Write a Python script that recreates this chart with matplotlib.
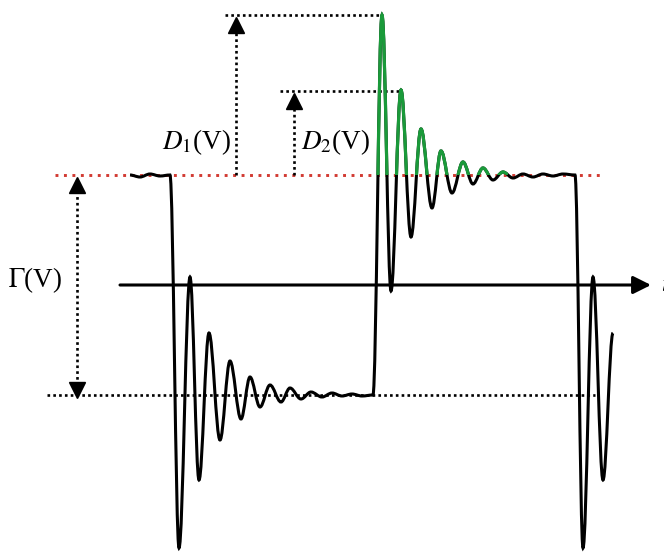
import matplotlib.pyplot as plt
from matplotlib.path import Path
from matplotlib.patches import PathPatch, Rectangle

plt.rcParams['font.family'] = ['Liberation Serif', 'DejaVu Serif']
plt.rcParams['mathtext.fontset'] = 'stix'

# signal levels (arbitrary units, 0 = time axis)
v_high = 110
v_low = -110
d1_peak = 270
d2_peak = 194

# turning points of the ringing waveform
t_pts = [130, 140, 150, 160, 170, 179, 190, 199, 209, 220, 230, 241, 250, 260,
         270, 281, 290, 301, 311, 322, 332, 342, 352, 362, 373,
         382, 391, 401, 411, 421, 432, 441, 452, 463, 473, 483, 493, 503, 513,
         523, 533, 543, 553, 563, 575, 583, 593, 603, 613]
v_pts = [110, 108, 111, 109, 110, -263, 8, -195, -48, -155, -76, -134, -92, -122,
         -100, -117, -103, -114, -107, -112, -108, -111, -109, -111, -110,
         270, -6, 195, 48, 156, 77, 134, 92, 123, 101, 117, 105, 113, 107,
         111, 108, 111, 109, 111, 110, -263, 8, -195, -48]


def wave_path(ts, vs, k=0.36):
    # smooth curve through turning points, flat tangent at each one
    verts = [(ts[0], vs[0])]
    codes = [Path.MOVETO]
    for i in range(1, len(ts)):
        dt = ts[i] - ts[i - 1]
        verts += [(ts[i - 1] + k * dt, vs[i - 1]), (ts[i] - k * dt, vs[i]), (ts[i], vs[i])]
        codes += [Path.CURVE4] * 3
    return Path(verts, codes)


fig = plt.figure(figsize=(6.64, 5.52), dpi=100)
ax = fig.add_axes([0, 0, 1, 1])
ax.set_xlim(0, 664)
ax.set_ylim(-267, 285)
ax.axis('off')

dot_k = dict(color='black', lw=1.9, linestyle=(0, (1, 1.2)))

# reference levels
ax.plot([55, 603], [v_high, v_high], color='#d23a32', lw=2.1, linestyle=(0, (1, 1.9)), zorder=1)
ax.plot([47, 595], [v_low, v_low], **dot_k, zorder=1)

# time axis
ax.annotate('', xy=(651, 0), xytext=(120, 0),
            arrowprops=dict(arrowstyle='-|>', lw=2.2, color='black', mutation_scale=27,
                            shrinkA=0, shrinkB=0))
ax.text(661, 0, r'$t$', fontsize=18, va='center', ha='left')

# waveform
ax.add_patch(PathPatch(wave_path(t_pts, v_pts), fill=False, lw=2.2, edgecolor='black', zorder=3))
green = PathPatch(wave_path(t_pts, v_pts), fill=False, lw=2.3, edgecolor='#1a9a3a', zorder=4)
ax.add_patch(green)
clip = Rectangle((368, v_high), 140, 300, transform=ax.transData)
green.set_clip_path(clip)

# Gamma(V) double arrow
ax.plot([77, 77], [v_low + 10, v_high - 10], **dot_k)
ax.plot(77, v_high - 10, marker='^', ms=11, color='black')
ax.plot(77, v_low + 5, marker='v', ms=11, color='black')
ax.text(8, 5, r'$\Gamma$(V)', fontsize=19.5, va='center', ha='left')

# D1(V)
ax.plot([225, 382], [d1_peak, d1_peak], **dot_k)
ax.plot([236, 236], [v_high, d1_peak - 10], **dot_k)
ax.plot(236, d1_peak - 10, marker='^', ms=11, color='black')
ax.text(231, 143, r'$D_1$(V)', fontsize=19.5, va='center', ha='right')

# D2(V)
ax.plot([280, 402], [d2_peak, d2_peak], **dot_k)
ax.plot([294, 294], [v_high, d2_peak - 10], **dot_k)
ax.plot(294, d2_peak - 10, marker='^', ms=11, color='black')
ax.text(301, 143, r'$D_2$(V)', fontsize=19.5, va='center', ha='left')

fig.savefig('out.png', dpi=100)
